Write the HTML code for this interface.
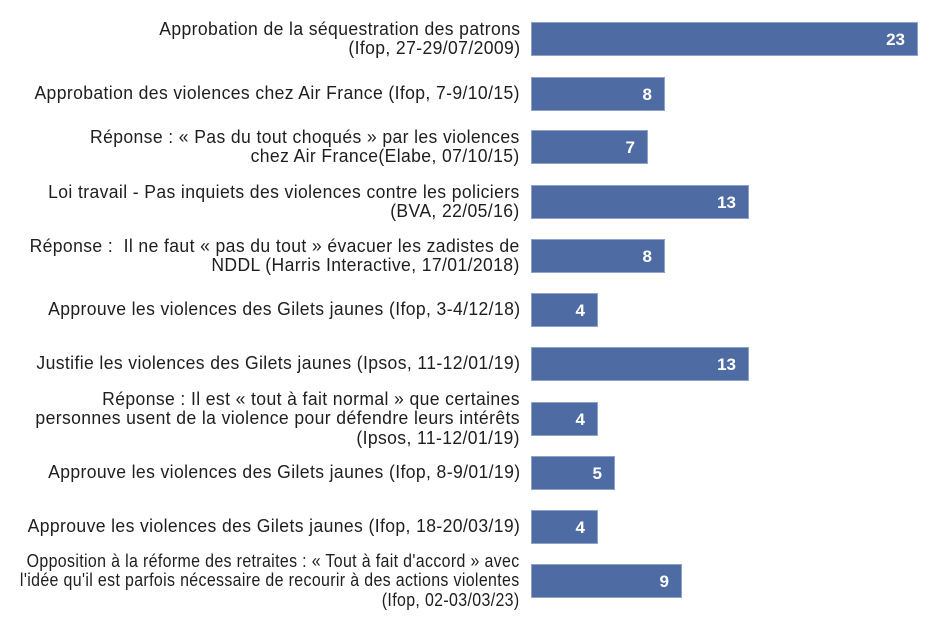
<!DOCTYPE html>
<html><head><meta charset="utf-8"><style>
body{margin:0;width:950px;height:623px;background:#fff;position:relative;overflow:hidden;font-family:"Liberation Sans",sans-serif}
.lab{position:absolute;right:430px;width:700px;height:60px;display:flex;align-items:center;justify-content:flex-end;text-align:right}
.lab span{display:inline-block;transform:scaleX(.975);transform-origin:right center;font-size:18px;line-height:19.5px;color:#1e1e1e;white-space:nowrap;letter-spacing:0.4px}
.lab span.n{transform:scaleX(.885)}
.bar{position:absolute;left:531px;height:34px;background:#4e6ca3;border:1px solid #8ea3c8;box-sizing:border-box;color:#fff;font-weight:bold;font-size:17px;text-align:right;line-height:33px;padding-right:12px}
</style></head><body>
<div class="lab" style="top:9px"><span>Approbation de la séquestration des patrons<br>(Ifop, 27-29/07/2009)</span></div>
<div class="bar" style="top:22px;width:387px">23</div>
<div class="lab" style="top:64px"><span>Approbation des violences chez Air France (Ifop, 7-9/10/15)</span></div>
<div class="bar" style="top:77px;width:134px">8</div>
<div class="lab" style="top:117px"><span>Réponse : « Pas du tout choqués » par les violences<br>chez Air France(Elabe, 07/10/15)</span></div>
<div class="bar" style="top:130px;width:117px">7</div>
<div class="lab" style="top:172px"><span>Loi travail - Pas inquiets des violences contre les policiers<br>(BVA, 22/05/16)</span></div>
<div class="bar" style="top:185px;width:218px">13</div>
<div class="lab" style="top:226px"><span>Réponse :&nbsp; Il ne faut « pas du tout » évacuer les zadistes de<br>NDDL (Harris Interactive, 17/01/2018)</span></div>
<div class="bar" style="top:239px;width:134px">8</div>
<div class="lab" style="top:280px"><span>Approuve les violences des Gilets jaunes (Ifop, 3-4/12/18)</span></div>
<div class="bar" style="top:293px;width:67px">4</div>
<div class="lab" style="top:334px"><span>Justifie les violences des Gilets jaunes (Ipsos, 11-12/01/19)</span></div>
<div class="bar" style="top:347px;width:218px">13</div>
<div class="lab" style="top:389px"><span>Réponse : Il est « tout à fait normal » que certaines<br>personnes usent de la violence pour défendre leurs intérêts<br>(Ipsos, 11-12/01/19)</span></div>
<div class="bar" style="top:402px;width:67px">4</div>
<div class="lab" style="top:443px"><span>Approuve les violences des Gilets jaunes (Ifop, 8-9/01/19)</span></div>
<div class="bar" style="top:456px;width:84px">5</div>
<div class="lab" style="top:497px"><span>Approuve les violences des Gilets jaunes (Ifop, 18-20/03/19)</span></div>
<div class="bar" style="top:510px;width:67px">4</div>
<div class="lab" style="top:551px"><span class="n">Opposition à la réforme des retraites : « Tout à fait d'accord » avec<br>l'idée qu'il est parfois nécessaire de recourir à des actions violentes<br>(Ifop, 02-03/03/23)</span></div>
<div class="bar" style="top:564px;width:151px">9</div>
</body></html>
